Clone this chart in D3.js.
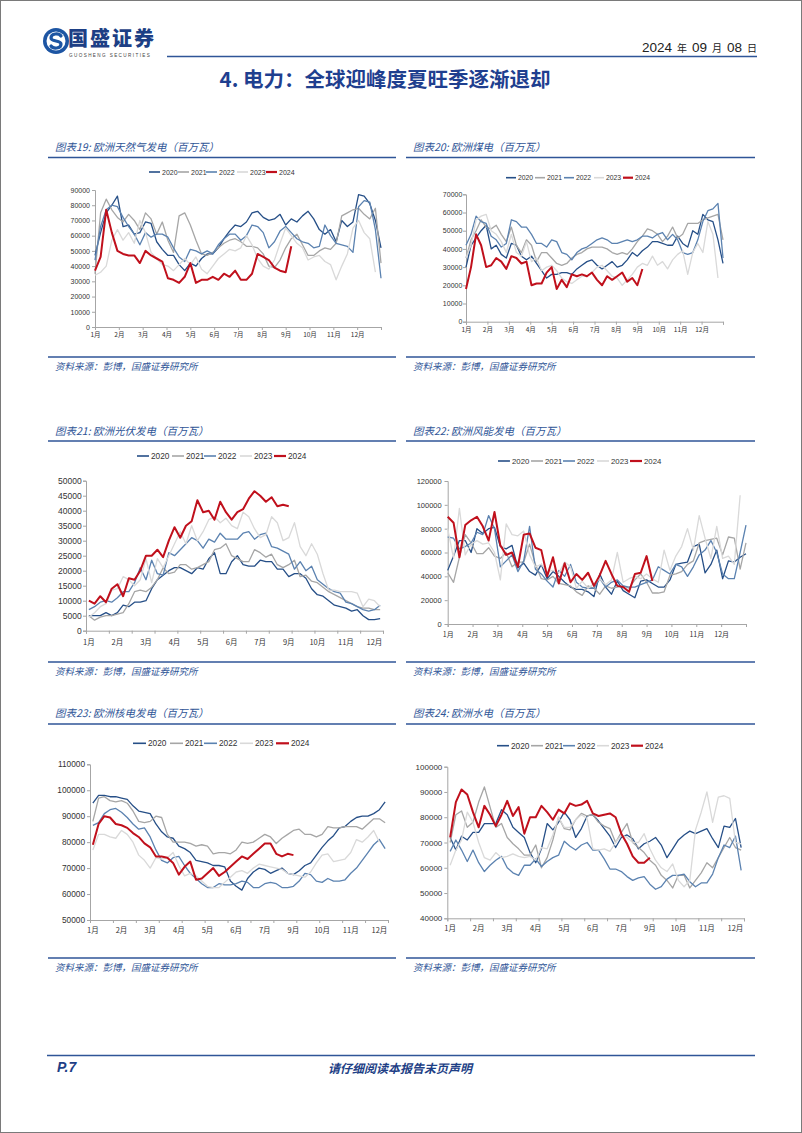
<!DOCTYPE html>
<html><head><meta charset="utf-8">
<script src="https://cdn.jsdelivr.net/npm/d3@7"></script>
<style>body{margin:0;background:#fff}svg{display:block}</style>
</head><body>
<svg id="page" width="802" height="1133"></svg>
<script>
const years = ["2020","2021","2022","2023","2024"];
const monthLabels = ["1月","2月","3月","4月","5月","6月","7月","8月","9月","10月","11月","12月"];
const catLabels = ["1月","2月","3月","4月","5月","6月","7月","9月","10月","11月","12月"];
const chartTitles = ["图表19: 欧洲天然气发电（百万瓦）","图表20: 欧洲煤电（百万瓦）","图表21: 欧洲光伏发电（百万瓦）","图表22: 欧洲风能发电（百万瓦）","图表23: 欧洲核电发电（百万瓦）","图表24: 欧洲水电（百万瓦）"];

// 图表19 天然气
const gas2020 = [47000,62000,75000,80000,86000,66000,67000,61000,62000,69000,68000,56000,51000,47000,47000,41000,37000,42000,40000,45000,48000,48000,52000,58000,63000,67000,66000,69000,75000,76000,72000,70000,71000,74000,67000,71000,69000,73000,76000,71000,64000,61000,64000,56000,70000,66000,69000,87000,86000,81000,70000,52000];
const gas2021 = [35000,75000,84000,77000,72000,69000,74000,70000,64000,75000,71000,61000,69000,57000,49000,73000,75000,67000,57000,48000,47000,49000,52000,55000,57000,58000,56000,53000,53000,52000,48000,40000,39000,44000,52000,58000,61000,54000,47000,47000,50000,52000,51000,55000,73000,75000,77000,78000,74000,71000,78000,42000];
const gas2022 = [44000,66000,77000,80000,79000,72000,66000,61000,54000,62000,59000,61000,61000,59000,52000,46000,43000,51000,50000,48000,50000,48000,54000,58000,61000,61000,57000,60000,67000,66000,62000,52000,56000,63000,66000,62000,58000,56000,55000,52000,53000,67000,60000,55000,54000,53000,49000,79000,83000,82000,64000,32000];
const gas2023 = [34000,36000,40000,57000,64000,57000,62000,55000,70000,62000,49000,45000,41000,40000,37000,41000,45000,41000,46000,38000,35000,40000,45000,48000,51000,50000,52000,60000,54000,45000,40000,38000,44000,55000,65000,60000,55000,52000,44000,46000,47000,43000,41000,31000,40000,48000,65000,70000,62000,58000,36000];
const gas2024 = [37000,46000,77000,62000,50000,48000,47000,47000,42000,50000,47000,45000,43000,32000,31000,29000,33000,42000,29000,31000,31000,33000,31000,35000,33000,37000,31000,31000,35000,48000,46000,44000,39000,37000,36000,53000];

// 图表20 煤电
const coal2020 = [30000,42000,46000,50000,53000,40000,42000,37000,35000,43000,42000,36000,34000,36000,32000,28000,24000,26000,26000,27000,27000,26000,29000,31000,33000,34000,31000,29000,31000,33000,30000,31000,34000,38000,36000,39000,41000,44000,44000,43000,42000,42000,47000,43000,41000,50000,48000,59000,56000,55000,45000,32000];
const coal2021 = [35000,45000,50000,56000,52000,51000,53000,48000,44000,52000,42000,38000,45000,42000,33000,38000,38000,35000,32000,31000,32000,35000,37000,38000,40000,41000,41000,41000,40000,38000,37000,38000,37000,40000,44000,47000,51000,50000,48000,44000,47000,52000,46000,48000,54000,54000,54000,56000,57000,58000,59000,45000];
const coal2022 = [42000,48000,58000,55000,54000,47000,45000,41000,43000,56000,55000,52000,52000,48000,43000,43000,41000,45000,44000,38000,37000,34000,38000,40000,41000,43000,45000,46000,45000,43000,43000,44000,45000,44000,45000,47000,47000,46000,48000,49000,45000,48000,45000,38000,37000,38000,45000,55000,61000,62000,65000,35000];
const coal2023 = [35000,42000,56000,58000,59000,50000,48000,44000,38000,48000,38000,36000,44000,33000,35000,28000,30000,31000,28000,24000,22000,21000,23000,25000,25000,27000,30000,31000,28000,25000,24000,20000,23000,26000,30000,32000,31000,36000,31000,33000,29000,34000,37000,39000,26000,38000,43000,38000,55000,48000,24000];
const coal2024 = [18000,30000,48000,42000,30000,31000,35000,33000,29000,36000,35000,32000,33000,20000,21000,21000,27000,30000,18000,23000,19000,26000,25000,26000,25000,27000,23000,20000,25000,23000,25000,27000,22000,24000,20000,29000];

// 图表21 光伏
const solar2020 = [5000,5000,5000,6000,5000,6000,8500,8000,9500,9500,10000,14000,17000,18500,20000,21000,21000,20000,19000,21000,20500,24000,26000,19000,19000,23000,25000,22000,21500,21500,23500,23000,23000,20500,20500,18000,19000,19000,17500,14000,12000,11500,10000,8500,8000,7500,6500,7000,5000,3700,3700,4000];
const solar2021 = [5000,3500,4500,5000,5000,5500,6000,9000,13000,13500,13000,14500,17000,21000,19000,19500,22000,22000,20500,21000,22000,23000,27000,27500,29000,25000,24000,23000,23000,27000,26000,24500,25500,22000,21000,22000,23500,18000,18500,16500,16000,14500,13000,12000,11000,10000,9000,8000,7500,7500,7000,7000];
const solar2022 = [7000,8000,9500,10000,9500,11000,13000,13000,16000,21000,17000,23500,19000,18500,26000,25000,27000,29000,31000,30000,27500,30500,29500,32500,30500,30500,30500,32500,33000,30500,32000,32500,28000,27500,26500,25500,20500,23000,20000,21500,17000,15500,14000,13000,12500,9500,9000,8000,7000,6500,7000,8500];
const solar2023 = [4500,6000,8000,9000,13500,14000,18000,17000,15000,17000,24000,16000,24000,21000,25000,29000,33000,29000,35000,30000,33000,37000,38000,36000,37500,35000,34000,39500,38000,34000,31000,32000,38000,36000,30000,31000,36000,28000,25000,29000,25500,19000,13500,13500,13000,13000,13000,12500,8000,10500,10000,8000];
const solar2024 = [10000,9000,11500,9500,14000,15500,11500,17500,17000,20000,25000,25000,27000,24500,30000,34500,31000,35000,36500,43500,39500,40000,37000,43000,39500,37000,39500,40500,44000,46500,45000,43000,44500,41500,42000,41500];

// 图表22 风能
const wind2020 = [45000,57000,70000,70000,60000,80000,76000,80000,81000,65000,63000,66000,47000,51000,44000,41000,50000,38000,44000,40000,35000,31000,29000,29000,27000,23000,42000,31000,25000,36000,28000,25000,22000,36000,37000,34000,31000,31000,37000,50000,51000,52000,65000,67000,43000,50000,62000,38000,53000,52000,56000,59000];
const wind2021 = [43000,35000,56000,75000,68000,59000,59000,64000,57000,55000,60000,48000,52000,52000,67000,50000,38000,37000,40000,34000,33000,32000,27000,24000,32000,30000,25000,32000,30000,31000,32000,30000,37000,42000,35000,26000,26000,27000,41000,42000,44000,50000,53000,68000,70000,71000,72000,58000,73000,72000,46000,68000];
const wind2022 = [73000,72000,63000,65000,68000,77000,75000,91000,80000,48000,53000,58000,44000,53000,82000,46000,42000,36000,31000,45000,40000,50000,35000,31000,30000,30000,38000,31000,35000,37000,32000,31000,31000,33000,35000,37000,48000,45000,42000,50000,48000,40000,48000,58000,62000,70000,60000,42000,38000,38000,60000,83000];
const wind2023 = [80000,55000,97000,58000,67000,70000,67000,68000,60000,37000,84000,75000,74000,78000,58000,48000,50000,44000,45000,43000,52000,48000,30000,36000,30000,34000,38000,33000,37000,60000,35000,38000,40000,38000,42000,38000,35000,62000,45000,57000,65000,80000,62000,91000,72000,55000,82000,55000,57000,50000,108000];
const wind2024 = [90000,85000,56000,83000,87000,90000,82000,70000,94000,66000,58000,60000,48000,75000,76000,64000,62000,40000,56000,34000,51000,35000,42000,37000,43000,32000,41000,53000,42000,32000,31000,27000,42000,43000,57000,36000];

// 图表23 核电
const nuclear2020 = [95000,98000,98000,97500,97500,97000,96500,94000,92000,91500,91000,87000,84000,82000,81500,78500,77500,76000,73000,72500,72000,71000,71000,70500,65000,63000,61500,66000,68500,70000,69500,68000,69000,70000,68000,67500,69000,71000,72000,75000,78000,80500,82500,85500,86000,88000,89500,90000,90000,91000,92500,95500];
const nuclear2021 = [88000,97000,97500,96000,95500,96000,95000,92000,88000,87500,88000,90000,89500,83000,80000,80000,80000,79500,78500,79000,78500,75500,76000,76000,75500,77000,80000,79500,80000,81500,83000,82000,79500,81500,83000,84500,85000,83000,83000,82000,83000,86000,85500,85500,86000,86000,86000,85000,87000,89000,89000,87500];
const nuclear2022 = [86500,87500,91000,92500,93000,91500,89500,87000,85000,85500,82000,77000,73000,72000,74000,74500,71000,68000,66000,64000,62500,62500,64000,63500,63500,64000,65000,64500,62500,62500,64000,64500,64000,62500,62500,63000,65000,68000,67500,65000,64500,66000,65000,65000,65500,68000,70000,73000,76000,79000,81000,77500];
const nuclear2023 = [77000,83000,83000,82000,81500,84500,83000,80000,75000,73000,70000,74000,73500,74000,76000,71000,67000,68000,67000,65000,63000,62500,62500,64500,66500,68500,69000,68000,70000,71500,71000,70500,70000,69500,68000,67500,67000,66500,68500,72000,75000,75500,72500,73000,73500,76000,81000,80000,82000,84500,80000];
const nuclear2024 = [79000,87000,90000,89500,87000,86500,85500,83500,82000,79500,78000,74500,74500,74000,72000,67500,70500,72500,65500,66000,68000,70000,67000,68500,70500,72500,74500,73500,75500,77500,79500,79500,75500,74500,75500,75000];

// 图表24 水电
const hydro2020 = [72000,67000,72500,71000,74000,74000,77500,77500,77500,83000,81000,76000,74000,72000,66000,62000,67500,77500,75000,78000,82000,79000,72000,75500,80500,81000,78500,75500,72500,68000,72000,73000,71500,67500,69500,70500,72000,69000,64000,67500,71000,73000,74500,73500,74500,75500,71500,68000,76500,76000,79500,68000];
const hydro2021 = [70000,81000,82500,76000,78000,86000,92000,84000,76000,77500,72000,69500,67500,65000,65000,69000,60000,64000,71000,80000,75500,75000,79000,81500,80500,81000,78000,76500,75500,70000,74000,77500,70000,68000,66000,63000,61000,57000,55000,52000,57000,57000,52000,55000,58000,62000,60000,64000,68000,72000,68000,67000];
const hydro2022 = [66500,71000,67000,62500,67000,62000,58500,61000,63000,64500,60000,58000,57000,61000,61000,63500,60500,62500,64000,65000,70500,68500,67000,69000,70000,67000,67000,63500,59500,59500,58500,56500,55000,56000,56500,53500,51500,52500,55500,57000,57000,57500,54500,52500,54000,54000,57500,64000,69000,68000,72500,59000];
const hydro2023 = [61000,67000,71000,82000,78000,70000,64000,63000,66000,64000,64500,65500,64500,64000,64500,63000,68000,67500,73000,80000,76000,76000,79000,81000,79500,67500,67000,67500,66500,70000,73000,72000,70000,70000,73500,67500,63000,60000,58500,61500,55000,52500,55000,75000,82000,90000,78000,88000,88500,87500,70000,69500];
const hydro2024 = [72000,86000,91000,89000,82000,76000,84500,81000,76500,81000,86500,80500,84000,73500,80000,80000,84500,82000,79000,83000,81500,85500,84500,85000,86500,81500,80500,81000,81500,80000,73500,69500,64500,62000,62000,64000];

const seriesColors = ["#264f87","#a6a6a6","#5b82b0","#d9d9d9","#c0101c"];
const seriesWidths = [1.3,1.3,1.3,1.3,2];

const charts = [
  {title:chartTitles[0], tx:55, ty:146, series:[gas2020,gas2021,gas2022,gas2023,gas2024], type:"month",
   left:95,right:381,top:190,bottom:327,yMin:0,yMax:90000,yStep:10000,labelRight:90,yFont:7,xFont:6.5,xGap:4.5,
   legY:172,legX:[149,178,206,237,266],legL:11,legFont:7},
  {title:chartTitles[1], tx:413, ty:146, series:[coal2020,coal2021,coal2022,coal2023,coal2024], type:"month",
   left:466,right:723,top:194.3,bottom:321.7,yMin:0,yMax:70000,yStep:10000,labelRight:462.3,yFont:7,xFont:6.5,xGap:5.5,
   legY:177.7,legX:[506,535,564,594,623],legL:10,legFont:6.8},
  {title:chartTitles[2], tx:55, ty:430, series:[solar2020,solar2021,solar2022,solar2023,solar2024], type:"cat",
   left:86,right:383,top:480.7,bottom:630.7,yMin:0,yMax:50000,yStep:5000,labelRight:81.7,yFont:8.5,xFont:7.5,xGap:8.6,
   legY:456,legX:[137,172,204,240,274],legL:12,legFont:8.3},
  {title:chartTitles[3], tx:413, ty:430, series:[wind2020,wind2021,wind2022,wind2023,wind2024], type:"month",
   left:447.7,right:746,top:481,bottom:624,yMin:0,yMax:120000,yStep:20000,labelRight:441.7,yFont:7.5,xFont:7,xGap:7.3,
   legY:461,legX:[498,531,563,597,630],legL:12,legFont:7.8},
  {title:chartTitles[4], tx:55, ty:712, series:[nuclear2020,nuclear2021,nuclear2022,nuclear2023,nuclear2024], type:"cat",
   left:90,right:388,top:764.3,bottom:920,yMin:50000,yMax:110000,yStep:10000,labelRight:85,yFont:8.3,xFont:7.5,xGap:7.3,
   legY:743.3,legX:[133,170,204,240,276],legL:13,legFont:8.3},
  {title:chartTitles[5], tx:413, ty:712, series:[hydro2020,hydro2021,hydro2022,hydro2023,hydro2024], type:"cat",
   left:447.3,right:744,top:766.7,bottom:918.3,yMin:40000,yMax:100000,yStep:10000,labelRight:442.3,yFont:8,xFont:7.5,xGap:7.3,
   legY:745.7,legX:[497,531,563,597,631],legL:12,legFont:8.3}
];

const svg = d3.select("#page");
const BLUE = "#2f5597";
const DARK = "#1e3f86";
const CJK = "'Noto Sans CJK SC','Noto Sans',sans-serif";
const NUM = "'Liberation Sans',Arial,sans-serif";

// page border
svg.append("rect").attr("x",0.5).attr("y",0.5).attr("width",801).attr("height",1132)
  .attr("fill","#fff").attr("stroke","#7a7a7a").attr("stroke-width",1);

// header logo
const logo = svg.append("g").attr("transform","translate(56,41)");
logo.append("circle").attr("r",13).attr("fill","#1d55a3");
logo.append("circle").attr("r",9.5).attr("fill","#fff");
logo.append("path").attr("d","M5,-5 C3,-8 -5,-8 -5,-3 C-5,1 5,-1 5,3 C5,8 -3,8 -5,5")
  .attr("fill","none").attr("stroke","#1d55a3").attr("stroke-width",3.2).attr("stroke-linecap","round");
svg.append("text").attr("x",68).attr("y",46).text("国盛证券")
  .attr("font-family",CJK).attr("font-weight",900).attr("font-size",20).attr("fill","#1d3f85").attr("letter-spacing",2);
svg.append("text").attr("x",69).attr("y",57).text("GUOSHENG SECURITIES")
  .attr("font-family",NUM).attr("font-size",4.6).attr("fill","#444").attr("letter-spacing",1.4);
svg.append("line").attr("x1",167).attr("x2",757).attr("y1",56.5).attr("y2",56.5)
  .attr("stroke",BLUE).attr("stroke-width",1.6);
const dt = svg.append("text").attr("x",757).attr("y",52).attr("text-anchor","end")
  .attr("font-family",NUM).attr("font-size",13.5).attr("fill","#222");
[["2024",13.5],["\u2002年\u2002",10],["09",13.5],["\u2002月\u2002",10],["08",13.5],["\u2002日",10]].forEach(([t,s])=>{
  dt.append("tspan").text(t).attr("font-size",s).attr("font-family", s<12?CJK:NUM);
});

// section title
svg.append("text").attr("x",385).attr("y",78).attr("text-anchor","middle").attr("dominant-baseline","central")
  .text("4. 电力：全球迎峰度夏旺季逐渐退却")
  .attr("font-family",CJK).attr("font-weight",700).attr("font-size",20.5).attr("fill","#1f3f8f");

// section rules & sources
const rowTitleLines = [157.5,441,724];
const rowSourceLines = [357,662,958];
[[48,396],[406,755]].forEach(([a,b],ci)=>{
  rowTitleLines.forEach(y=>svg.append("line").attr("x1",a).attr("x2",b).attr("y1",y).attr("y2",y)
    .attr("stroke",BLUE).attr("stroke-width",1.5));
  rowSourceLines.forEach(y=>{
    svg.append("line").attr("x1",a).attr("x2",b).attr("y1",y).attr("y2",y)
      .attr("stroke",BLUE).attr("stroke-width",1.5);
    svg.append("text").attr("x",ci===0?55:413).attr("y",y+8.5).attr("dominant-baseline","central")
      .text("资料来源：彭博，国盛证券研究所").attr("font-family",CJK).attr("font-style","italic")
      .attr("font-size",9.5).attr("fill",BLUE);
  });
});

// footer
svg.append("line").attr("x1",47).attr("x2",755).attr("y1",1055.5).attr("y2",1055.5)
  .attr("stroke",BLUE).attr("stroke-width",1.5);
svg.append("text").attr("x",57).attr("y",1067).attr("dominant-baseline","central").text("P.7")
  .attr("font-family",NUM).attr("font-weight",700).attr("font-style","italic").attr("font-size",14).attr("fill",DARK);
svg.append("text").attr("x",400).attr("y",1067).attr("text-anchor","middle").attr("dominant-baseline","central")
  .text("请仔细阅读本报告末页声明").attr("font-family",CJK).attr("font-weight",700).attr("font-style","italic")
  .attr("font-size",12).attr("fill",DARK);

function drawChart(c){
  const g = svg.append("g");
  g.append("text").attr("x",c.tx).attr("y",c.ty).attr("dominant-baseline","central").text(c.title)
    .attr("font-family",CJK).attr("font-style","italic").attr("font-size",10.5).attr("fill",BLUE);

  const y = d3.scaleLinear().domain([c.yMin,c.yMax]).range([c.bottom,c.top]);
  const yTicks = d3.range(c.yMin, c.yMax + c.yStep/2, c.yStep);
  const ya = g.append("g").attr("transform",`translate(${c.left},0)`)
    .call(d3.axisLeft(y).tickValues(yTicks).tickSize(3).tickPadding(Math.max(0,c.left-c.labelRight-3)).tickFormat(d3.format("d")));
  ya.select(".domain").attr("stroke","#a6a6a6");
  ya.selectAll(".tick line").attr("stroke","#a6a6a6");
  ya.selectAll("text").attr("font-family",NUM).attr("font-size",c.yFont).attr("fill","#333");

  let xPos;
  if(c.type==="month"){
    const xm = d3.scaleLinear().domain([0,12]).range([c.left,c.right]);
    const xa = g.append("g").attr("transform",`translate(0,${c.bottom})`)
      .call(d3.axisBottom(xm).tickValues(d3.range(13)).tickSize(3).tickPadding(c.xGap-3+0.5)
        .tickFormat(i=>monthLabels[i]||""));
    xa.select(".domain").attr("stroke","#a6a6a6");
    xa.selectAll(".tick line").attr("stroke","#a6a6a6");
    xa.selectAll("text").attr("font-family",CJK).attr("font-size",c.xFont).attr("fill","#333");
    const xd = d3.scaleLinear().domain([0,51]).range([c.left,c.right]);
    xPos = i=>xd(i);
  } else {
    const xb = d3.scaleBand().domain(d3.range(52)).range([c.left,c.right]).padding(0);
    const xEdge = d3.scaleLinear().domain([0,52]).range([c.left,c.right]);
    const xt = g.append("g").attr("transform",`translate(0,${c.bottom})`)
      .call(d3.axisBottom(xEdge).tickValues(d3.range(0,53,4)).tickSize(3).tickFormat(""));
    xt.select(".domain").attr("stroke","#a6a6a6");
    xt.selectAll(".tick line").attr("stroke","#a6a6a6");
    const xl = g.append("g").attr("transform",`translate(0,${c.bottom})`)
      .call(d3.axisBottom(xb).tickValues(d3.range(0,52,5)).tickSize(0).tickPadding(c.xGap+0.5)
        .tickFormat(i=>catLabels[i/5]||""));
    xl.select(".domain").remove();
    xl.selectAll("text").attr("font-family",CJK).attr("font-size",c.xFont).attr("fill","#333");
    xPos = i=>xb(i)+xb.bandwidth()/2;
  }

  const line = d3.line().x((d,i)=>xPos(i)).y(d=>y(d));
  c.series.forEach((s,k)=>{
    g.append("path").datum(s).attr("d",line).attr("fill","none")
      .attr("stroke",seriesColors[k]).attr("stroke-width",seriesWidths[k])
      .attr("stroke-linejoin","round");
  });

  years.forEach((yr,k)=>{
    const lx = c.legX[k];
    g.append("line").attr("x1",lx).attr("x2",lx+c.legL).attr("y1",c.legY).attr("y2",c.legY)
      .attr("stroke",seriesColors[k]).attr("stroke-width",k===4?2.2:1.6);
    g.append("text").attr("x",lx+c.legL+2).attr("y",c.legY).attr("dominant-baseline","central").text(yr)
      .attr("font-family",NUM).attr("font-size",c.legFont).attr("fill","#333");
  });
}
charts.forEach(drawChart);
</script>
</body></html>
